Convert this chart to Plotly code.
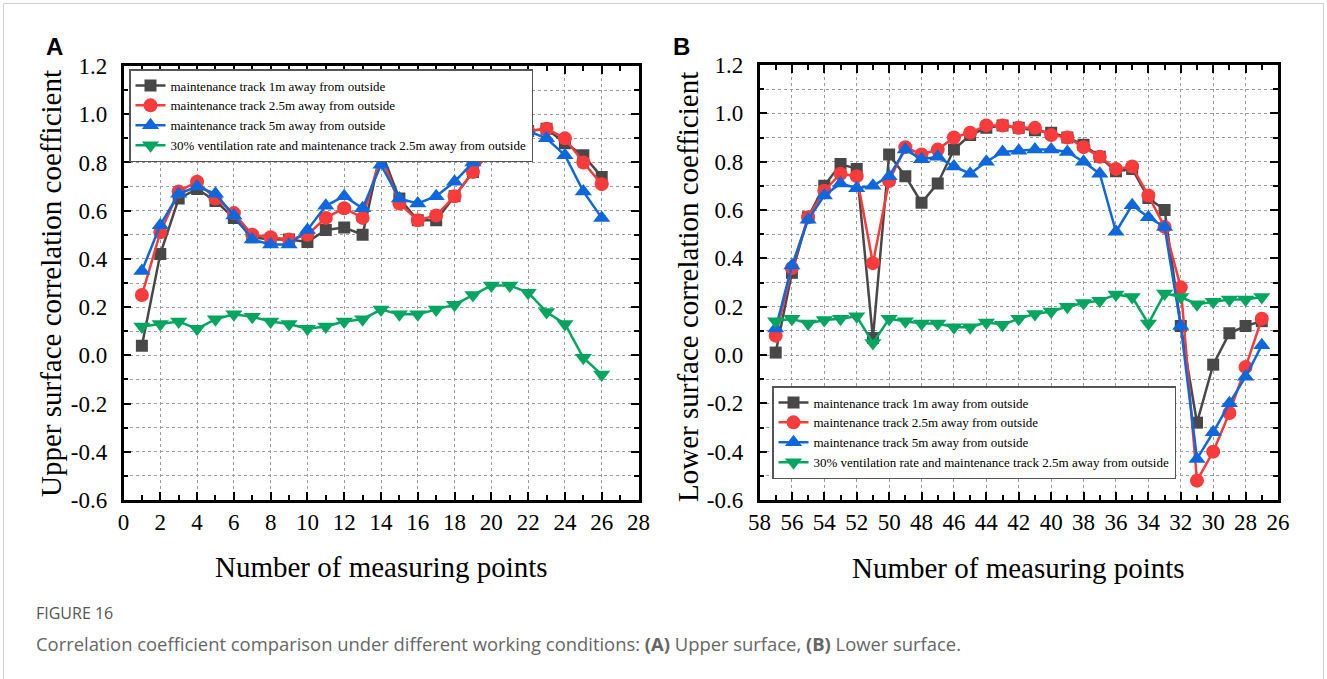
import plotly.graph_objects as go

W, H = 1327, 679

# ---------------- data ----------------
x_upper = list(range(1, 27))
upper_1m = [0.04, 0.42, 0.65, 0.69, 0.64, 0.57, 0.49, 0.48, 0.48, 0.47, 0.52, 0.53, 0.50,
            0.85, 0.65, 0.56, 0.56, 0.66, 0.76, 0.86, 0.90, 0.93, 0.94, 0.88, 0.83, 0.74]
upper_25m = [0.25, 0.51, 0.68, 0.72, 0.65, 0.59, 0.50, 0.49, 0.48, 0.50, 0.57, 0.61, 0.57,
             0.83, 0.63, 0.56, 0.58, 0.66, 0.76, 0.85, 0.91, 0.93, 0.94, 0.90, 0.80, 0.71]
upper_5m = [0.35, 0.54, 0.67, 0.70, 0.67, 0.58, 0.48, 0.46, 0.46, 0.52, 0.62, 0.66, 0.61,
            0.79, 0.65, 0.63, 0.66, 0.72, 0.80, 0.88, 0.92, 0.93, 0.90, 0.83, 0.68, 0.57]
upper_vent = [0.12, 0.13, 0.14, 0.11, 0.15, 0.17, 0.16, 0.14, 0.13, 0.11, 0.12, 0.14, 0.15,
              0.19, 0.17, 0.17, 0.19, 0.21, 0.25, 0.29, 0.29, 0.26, 0.18, 0.13, -0.01, -0.08]

x_lower = list(range(57, 26, -1))
lower_1m = [0.01, 0.34, 0.57, 0.70, 0.79, 0.77, 0.07, 0.83, 0.74, 0.63, 0.71, 0.85, 0.91,
            0.94, 0.95, 0.94, 0.93, 0.92, 0.90, 0.87, 0.82, 0.76, 0.77, 0.65, 0.60, 0.12,
            -0.28, -0.04, 0.09, 0.12, 0.14]
lower_25m = [0.08, 0.36, 0.57, 0.68, 0.75, 0.74, 0.38, 0.72, 0.86, 0.83, 0.85, 0.90, 0.92,
             0.95, 0.95, 0.94, 0.94, 0.91, 0.90, 0.86, 0.82, 0.77, 0.78, 0.66, 0.53, 0.28,
             -0.52, -0.40, -0.24, -0.05, 0.15]
lower_5m = [0.11, 0.37, 0.56, 0.66, 0.71, 0.69, 0.70, 0.74, 0.85, 0.81, 0.82, 0.78, 0.75,
            0.80, 0.84, 0.845, 0.85, 0.85, 0.84, 0.80, 0.75, 0.51, 0.62, 0.57, 0.53, 0.12,
            -0.43, -0.32, -0.20, -0.09, 0.04]
lower_vent = [0.14, 0.15, 0.13, 0.145, 0.15, 0.16, 0.05, 0.15, 0.14, 0.13, 0.13, 0.115, 0.115,
              0.135, 0.125, 0.15, 0.17, 0.18, 0.20, 0.215, 0.225, 0.25, 0.24, 0.13, 0.255, 0.24,
              0.21, 0.22, 0.23, 0.23, 0.24]

series_names = ["maintenance track 1m away from outside",
                "maintenance track 2.5m away from outside",
                "maintenance track 5m away from outside",
                "30% ventilation rate and maintenance track 2.5m away from outside"]

upper_x_ticks = [0, 2, 4, 6, 8, 10, 12, 14, 16, 18, 20, 22, 24, 26, 28]
lower_x_ticks = [58, 56, 54, 52, 50, 48, 46, 44, 42, 40, 38, 36, 34, 32, 30, 28, 26]
y_ticks = [-0.6, -0.4, -0.2, 0.0, 0.2, 0.4, 0.6, 0.8, 1.0, 1.2]
y_tick_text = ["-0.6", "-0.4", "-0.2", "0.0", "0.2", "0.4", "0.6", "0.8", "1.0", "1.2"]

# ---------------- styles ----------------
colors = ["#484848", "#f93b3b", "#0e67dd", "#04a55f"]
symbols = ["square", "circle", "triangle-up", "triangle-down"]
msizes = [12, 14, 15, 15]
SERIF = "Liberation Serif, Times New Roman, serif"

fig = go.Figure()

upper_sets = [upper_1m, upper_25m, upper_5m, upper_vent]
lower_sets = [lower_1m, lower_25m, lower_5m, lower_vent]
for i in range(4):
    fig.add_trace(go.Scatter(
        x=x_upper, y=upper_sets[i], mode="lines+markers", name=series_names[i],
        line=dict(color=colors[i], width=2.5),
        marker=dict(symbol=symbols[i], size=msizes[i], color=colors[i], line=dict(width=0)),
        xaxis="x", yaxis="y", legend="legend"))
for i in range(4):
    fig.add_trace(go.Scatter(
        x=x_lower, y=lower_sets[i], mode="lines+markers", name=series_names[i],
        line=dict(color=colors[i], width=2.5),
        marker=dict(symbol=symbols[i], size=msizes[i], color=colors[i], line=dict(width=0)),
        xaxis="x2", yaxis="y2", legend="legend2"))


def px(p):
    return p / W


def py(p):
    return 1 - p / H


grid = dict(showgrid=True, gridcolor="#9a9a9a", griddash="dot", gridwidth=1)
axis_common = dict(showline=True, linecolor="black", linewidth=2.5, mirror="allticks",
                   ticks="inside", ticklen=8, tickwidth=2, tickcolor="black",
                   zeroline=False, automargin=False,
                   tickfont=dict(family=SERIF, size=23, color="black"), **grid)


def xaxis(domain, rng, ticks, tick0):
    return dict(domain=domain, range=rng, tickmode="array", tickvals=ticks,
                ticktext=[str(t) for t in ticks], ticklabelstandoff=0,
                minor=dict(tickmode="linear", tick0=tick0, dtick=1, ticks="inside",
                           ticklen=5, tickwidth=2, tickcolor="black", showgrid=False),
                **axis_common)


def yaxis(domain, anchor):
    return dict(domain=domain, range=[-0.6, 1.2], tickmode="array", tickvals=y_ticks,
                ticktext=y_tick_text, anchor=anchor, ticklabelstandoff=9,
                minor=dict(tickmode="linear", tick0=0, dtick=0.1, ticks="inside",
                           ticklen=5, tickwidth=2, tickcolor="black", showgrid=True,
                           gridcolor="#9a9a9a", griddash="dot", gridwidth=1),
                **axis_common)


legend_common = dict(xanchor="left", yanchor="top", bgcolor="white",
                     bordercolor="#555555", borderwidth=1.5,
                     font=dict(family=SERIF, size=13, color="black"), tracegroupgap=0)

fig.update_layout(
    width=W, height=H,
    margin=dict(l=0, r=0, t=0, b=0),
    paper_bgcolor="white", plot_bgcolor="white",
    xaxis=dict(anchor="y", **xaxis([px(123.5), px(638.5)], [0, 28], upper_x_ticks, 0)),
    yaxis=yaxis([py(500), py(66)], "x"),
    xaxis2=dict(anchor="y2", **xaxis([px(759.5), px(1278)], [58, 26], lower_x_ticks, 26)),
    yaxis2=yaxis([py(500), py(65)], "x2"),
    legend=dict(x=px(129), y=py(69), **legend_common),
    legend2=dict(x=px(772), y=py(386), **legend_common),
    showlegend=True,
)

ann = []
# axis titles
ann.append(dict(x=px(51), y=py(284), text="Upper surface correlation coefficient",
                textangle=-90, font=dict(family=SERIF, size=29, color="black")))
ann.append(dict(x=px(688), y=py(287), text="Lower surface correlation coefficient",
                textangle=-90, font=dict(family=SERIF, size=29, color="black")))
ann.append(dict(x=px(381), y=py(567), text="Number of measuring points",
                font=dict(family=SERIF, size=29, color="black")))
ann.append(dict(x=px(1018), y=py(568), text="Number of measuring points",
                font=dict(family=SERIF, size=29, color="black")))
# panel labels
ann.append(dict(x=px(54), y=py(47), text="<b>A</b>",
                font=dict(family="Liberation Sans", size=24, color="black")))
ann.append(dict(x=px(682), y=py(47), text="<b>B</b>",
                font=dict(family="Liberation Sans", size=24, color="black")))
# caption
ann.append(dict(x=px(34), y=py(613), text="FIGURE 16", xanchor="left",
                font=dict(family="Open Sans", size=16, color="#555555")))
ann.append(dict(x=px(34), y=py(643), xanchor="left",
                text="Correlation coefficient comparison under different working conditions: "
                     "<b>(A)</b> Upper surface, <b>(B)</b> Lower surface.",
                font=dict(family="Open Sans", size=18.4, color="#666666")))
for a in ann:
    a.setdefault("xanchor", "center")
    a.setdefault("yanchor", "middle")
    a.update(xref="paper", yref="paper", showarrow=False)
fig.update_layout(annotations=ann)

fig.add_shape(type="rect", xref="paper", yref="paper",
              x0=px(3.5), x1=px(1323.5), y0=py(700), y1=py(3.5),
              line=dict(color="#d0d0d0", width=1), fillcolor="rgba(0,0,0,0)", layer="below")

fig.write_html("out.html")
